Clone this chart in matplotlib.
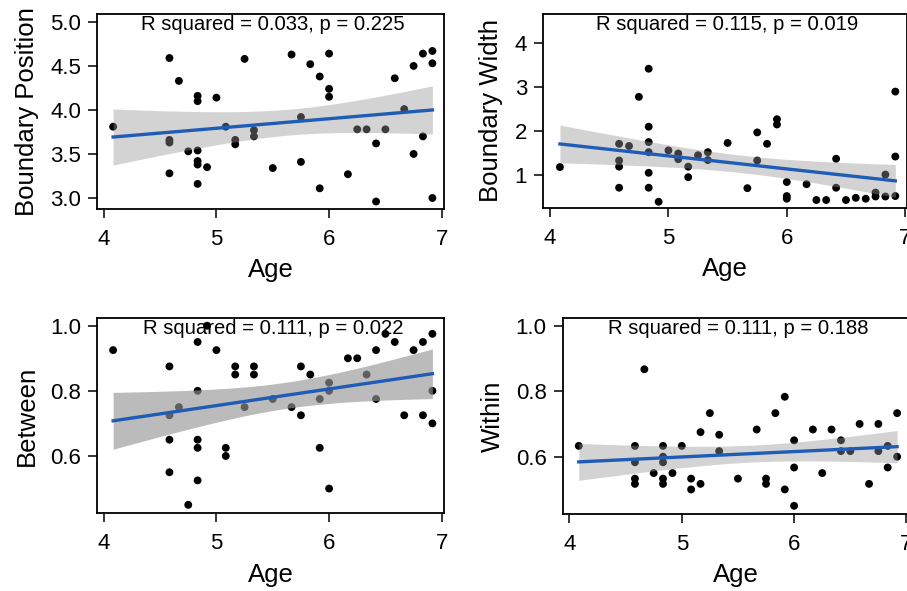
import numpy as np
import matplotlib
matplotlib.use("Agg")
import matplotlib.pyplot as plt
from matplotlib.transforms import blended_transform_factory

plt.rcParams['font.family'] = ['Liberation Sans', 'DejaVu Sans']

# ---------------- data ----------------
age_position = [4.083, 4.583, 4.667, 4.583, 4.583, 4.583, 4.75, 4.833, 4.833, 4.833,
                4.833, 4.833, 4.833, 4.917, 5.0, 5.083, 5.167, 5.167, 5.25, 5.333,
                5.333, 5.5, 5.667, 5.75, 5.75, 5.833, 5.917, 5.917, 6.0, 6.0,
                6.0, 6.167, 6.25, 6.333, 6.417, 6.417, 6.5, 6.583, 6.667, 6.75,
                6.75, 6.833, 6.833, 6.917, 6.917, 6.917]
boundary_position = [3.81, 4.59, 4.33, 3.66, 3.63, 3.28, 3.53, 4.16, 4.10, 3.54,
                     3.42, 3.38, 3.16, 3.35, 4.14, 3.81, 3.66, 3.61, 4.58, 3.77,
                     3.70, 3.34, 4.63, 3.92, 3.41, 4.52, 4.38, 3.11, 4.64, 4.24,
                     4.15, 3.27, 3.78, 3.78, 3.62, 2.96, 3.78, 4.36, 4.01, 4.50,
                     3.50, 4.64, 3.70, 4.67, 4.53, 3.00]

age_width = [4.083, 4.583, 4.583, 4.583, 4.583, 4.667, 4.75, 4.833, 4.833, 4.833,
             4.833, 4.833, 4.833, 4.917, 5.0, 5.083, 5.083, 5.167, 5.167, 5.25,
             5.333, 5.333, 5.5, 5.667, 5.75, 5.75, 5.833, 5.917, 5.917, 6.0,
             6.0, 6.0, 6.167, 6.25, 6.333, 6.417, 6.417, 6.5, 6.583, 6.667,
             6.75, 6.75, 6.833, 6.833, 6.917, 6.917, 6.917]
boundary_width = [1.18, 1.71, 1.33, 1.19, 0.71, 1.66, 2.78, 3.42, 2.10, 1.75,
                  1.52, 1.05, 0.71, 0.39, 1.56, 1.49, 1.36, 1.19, 0.95, 1.45,
                  1.52, 1.34, 1.73, 0.70, 1.97, 1.33, 1.71, 2.27, 2.15, 0.84,
                  0.52, 0.46, 0.79, 0.43, 0.43, 1.37, 0.71, 0.43, 0.48, 0.46,
                  0.60, 0.51, 1.01, 0.51, 2.90, 1.42, 0.52]

age_between = [4.083, 4.583, 4.583, 4.583, 4.583, 4.667, 4.75, 4.833, 4.833, 4.833,
               4.833, 4.833, 4.917, 5.0, 5.083, 5.083, 5.167, 5.167, 5.25, 5.333,
               5.333, 5.5, 5.667, 5.75, 5.75, 5.833, 5.917, 5.917, 6.0, 6.0,
               6.0, 6.167, 6.25, 6.333, 6.417, 6.417, 6.5, 6.583, 6.667, 6.75,
               6.833, 6.833, 6.917, 6.917, 6.917]
between = [0.925, 0.875, 0.725, 0.65, 0.55, 0.75, 0.45, 0.95, 0.80, 0.65,
           0.625, 0.525, 1.0, 0.925, 0.625, 0.60, 0.875, 0.85, 0.75, 0.875,
           0.85, 0.775, 0.75, 0.875, 0.725, 0.85, 0.775, 0.625, 0.825, 0.80,
           0.50, 0.90, 0.90, 0.85, 0.925, 0.775, 0.975, 0.95, 0.725, 0.925,
           0.95, 0.725, 0.975, 0.80, 0.70]

age_within = [4.083, 4.583, 4.583, 4.583, 4.583, 4.667, 4.75, 4.833, 4.833, 4.833,
              4.833, 4.833, 4.917, 5.0, 5.083, 5.083, 5.167, 5.167, 5.25, 5.333,
              5.333, 5.5, 5.667, 5.75, 5.75, 5.833, 5.917, 5.917, 6.0, 6.0,
              6.0, 6.167, 6.25, 6.333, 6.417, 6.417, 6.5, 6.583, 6.667, 6.75,
              6.75, 6.833, 6.833, 6.917, 6.917]
within = [0.633, 0.633, 0.583, 0.533, 0.517, 0.867, 0.55, 0.633, 0.60, 0.583,
          0.533, 0.517, 0.55, 0.633, 0.533, 0.50, 0.675, 0.517, 0.733, 0.667,
          0.617, 0.533, 0.683, 0.533, 0.517, 0.733, 0.783, 0.50, 0.65, 0.567,
          0.45, 0.683, 0.55, 0.683, 0.65, 0.617, 0.617, 0.70, 0.517, 0.70,
          0.617, 0.633, 0.567, 0.733, 0.60]

ylabels = ["Boundary Position", "Boundary Width", "Between", "Within"]
stat_texts = ["R squared = 0.033, p = 0.225", "R squared = 0.115, p = 0.019",
              "R squared = 0.111, p = 0.022", "R squared = 0.111, p = 0.188"]
x_ticks = [4, 5, 6, 7]
y_ticks = [[3.0, 3.5, 4.0, 4.5, 5.0], [1, 2, 3, 4], [0.6, 0.8, 1.0], [0.6, 0.8, 1.0]]
y_tick_labels = [["3.0", "3.5", "4.0", "4.5", "5.0"], ["1", "2", "3", "4"],
                 ["0.6", "0.8", "1.0"], ["0.6", "0.8", "1.0"]]

# ---------------- layout / style ----------------
W, H = 907, 591
fig = plt.figure(figsize=(W / 100, H / 100), dpi=100)

boxes_px = [(97, 14, 444, 209), (543, 14, 907.5, 208),
            (97, 318.3, 444, 513.3), (562.7, 318.3, 908.7, 514)]
ylims = [(2.875, 5.09), (0.248, 4.667), (0.424, 1.0227), (0.425, 1.0226)]
band_alpha = [0.41, 0.41, 0.64, 0.41]

panels = [(age_position, boundary_position), (age_width, boundary_width),
          (age_between, between), (age_within, within)]

T_CRIT = 2.015
line_color = '#1f5cb5'

for i, (xs, ys) in enumerate(panels):
    l, t, r, b = boxes_px[i]
    ax = fig.add_axes([l / W, 1 - b / H, (r - l) / W, (b - t) / H])
    x = np.asarray(xs, float)
    y = np.asarray(ys, float)

    ax.scatter(x, y, s=32, color='black', edgecolors='none', zorder=2)

    # OLS fit with 95% confidence band
    n = len(x)
    slope, intercept = np.polyfit(x, y, 1)
    xg = np.linspace(x.min(), x.max(), 200)
    yfit = intercept + slope * xg
    resid = y - (intercept + slope * x)
    s_err = np.sqrt(np.sum(resid ** 2) / (n - 2))
    sxx = np.sum((x - x.mean()) ** 2)
    se = s_err * np.sqrt(1 / n + (xg - x.mean()) ** 2 / sxx)
    ax.fill_between(xg, yfit - T_CRIT * se, yfit + T_CRIT * se,
                    color='#959595', alpha=band_alpha[i], linewidth=0, zorder=3)
    ax.plot(xg, yfit, color=line_color, linewidth=2.4, zorder=4)

    ax.set_xlim(3.94, 7.02)
    ax.set_ylim(*ylims[i])
    ax.set_xticks(x_ticks)
    ax.set_xticklabels([str(v) for v in x_ticks])
    ax.set_yticks(y_ticks[i])
    ax.set_yticklabels(y_tick_labels[i])
    ax.tick_params(axis='both', direction='out', length=6.5, width=1.1,
                   labelsize=16, color='black')
    ax.tick_params(axis='x', pad=8)
    ax.tick_params(axis='y', pad=5)
    for sp in ax.spines.values():
        sp.set_linewidth(1.3)
    ax.set_xlabel("Age", fontsize=18.5, labelpad=6)
    ax.set_ylabel(ylabels[i], fontsize=18.5, labelpad=8)

    trans = blended_transform_factory(ax.transData, ax.transAxes)
    ax.text(5.5, 1 - 16 / (b - t), stat_texts[i], transform=trans,
            ha='center', va='baseline', fontsize=14.6, zorder=5)

fig.savefig("out.png", dpi=100)
